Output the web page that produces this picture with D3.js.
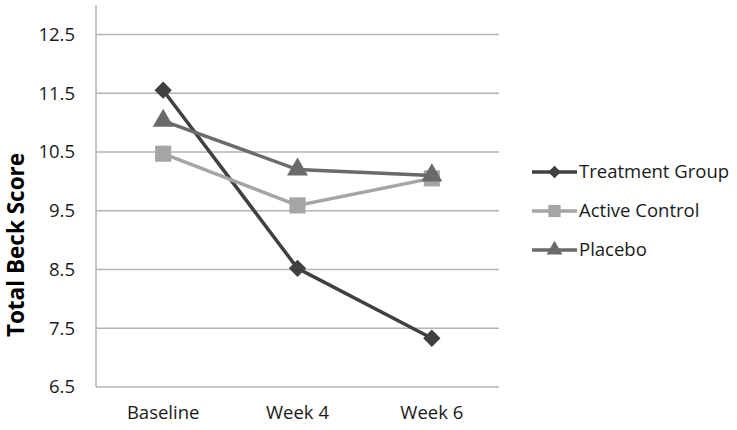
<!DOCTYPE html>
<html><head><meta charset="utf-8">
<script src="https://cdn.jsdelivr.net/npm/d3@7"></script>
<style>body{margin:0;background:#fff}svg{display:block}</style>
</head><body><svg id="c" width="737" height="430"></svg>
<script>
const categories = ["Baseline", "Week 4", "Week 6"];
const seriesNames = ["Treatment Group", "Active Control", "Placebo"];
const treatment = [11.55, 8.52, 7.33];
const activeControl = [10.47, 9.59, 10.05];
const placebo = [11.03, 10.2, 10.1];
const yTicks = [6.5, 7.5, 8.5, 9.5, 10.5, 11.5, 12.5];
const yLabel = "Total Beck Score";

(function () {
const series = [
  {name: seriesNames[0], values: treatment, color: "#404040", shape: "diamond"},
  {name: seriesNames[1], values: activeControl, color: "#a5a5a5", shape: "square"},
  {name: seriesNames[2], values: placebo, color: "#6a6a6a", shape: "triangle"}
];
const font = "'Open Sans', sans-serif";
const fs = 18.5;
const svg = d3.select("#c");
const pLeft = 96, pRight = 499, pTop = 5, pBottom = 387;
const x = d3.scalePoint().domain(categories).range([pLeft, pRight]).padding(0.5);
const y = d3.scaleLinear().domain([6.5, 13]).range([pBottom, pTop]);

// gridlines
svg.append("g").selectAll("line").data(yTicks).join("line")
  .attr("x1", pLeft).attr("x2", pRight).attr("y1", d => y(d)).attr("y2", d => y(d))
  .attr("stroke", "#b3b3b3").attr("stroke-width", 1.5);
// y axis line
svg.append("line").attr("x1", pLeft).attr("x2", pLeft).attr("y1", pTop).attr("y2", pBottom)
  .attr("stroke", "#b3b3b3").attr("stroke-width", 1.5);

// y tick labels
svg.append("g").selectAll("text").data(yTicks).join("text")
  .attr("x", 75).attr("y", d => y(d)).attr("dy", "0.35em")
  .attr("text-anchor", "end").attr("font-family", font).attr("font-size", fs)
  .attr("fill", "#1a1a1a").text(d => d.toFixed(1));
// x labels
svg.append("g").selectAll("text").data(categories).join("text")
  .attr("x", d => x(d)).attr("y", 419).attr("text-anchor", "middle")
  .attr("font-family", font).attr("font-size", fs).attr("fill", "#1a1a1a").text(d => d);
// y axis title
svg.append("text").attr("transform", "translate(24,245) rotate(-90)")
  .attr("text-anchor", "middle").attr("font-family", font).attr("font-weight", "bold")
  .attr("font-size", 22.5).attr("fill", "#000").text(yLabel);

function symbolPath(shape) {
  if (shape === "diamond") return d3.symbol(d3.symbolSquare, 150)();
  if (shape === "square") return d3.symbol(d3.symbolSquare, 260)();
  return d3.symbol(d3.symbolTriangle, 190)();
}
function rot(shape) { return shape === "diamond" ? " rotate(45)" : ""; }

const line = d3.line().x((d, i) => x(categories[i])).y(d => y(d));
series.forEach(s => {
  const g = svg.append("g");
  g.append("path").attr("d", line(s.values)).attr("fill", "none")
    .attr("stroke", s.color).attr("stroke-width", 3.5);
  g.selectAll("path.m").data(s.values).join("path").attr("class", "m")
    .attr("d", symbolPath(s.shape))
    .attr("transform", (d, i) => `translate(${x(categories[i])},${y(d)})` + rot(s.shape))
    .attr("fill", s.color);
});

// legend
const lg = svg.append("g");
series.forEach((s, i) => {
  const ly = 172 + i * 39;
  lg.append("line").attr("x1", 532).attr("x2", 577).attr("y1", ly).attr("y2", ly)
    .attr("stroke", s.color).attr("stroke-width", 3.5);
  lg.append("path").attr("d", s.shape === "diamond" ? d3.symbol(d3.symbolSquare, 80)() : s.shape === "square" ? d3.symbol(d3.symbolSquare, 150)() : d3.symbol(d3.symbolTriangle, 110)())
    .attr("transform", `translate(554.5,${ly})` + rot(s.shape)).attr("fill", s.color);
  lg.append("text").attr("x", 579).attr("y", ly).attr("dy", "0.35em")
    .attr("font-family", font).attr("font-size", fs).attr("fill", "#1a1a1a").text(s.name);
});
})();
</script></body></html>
